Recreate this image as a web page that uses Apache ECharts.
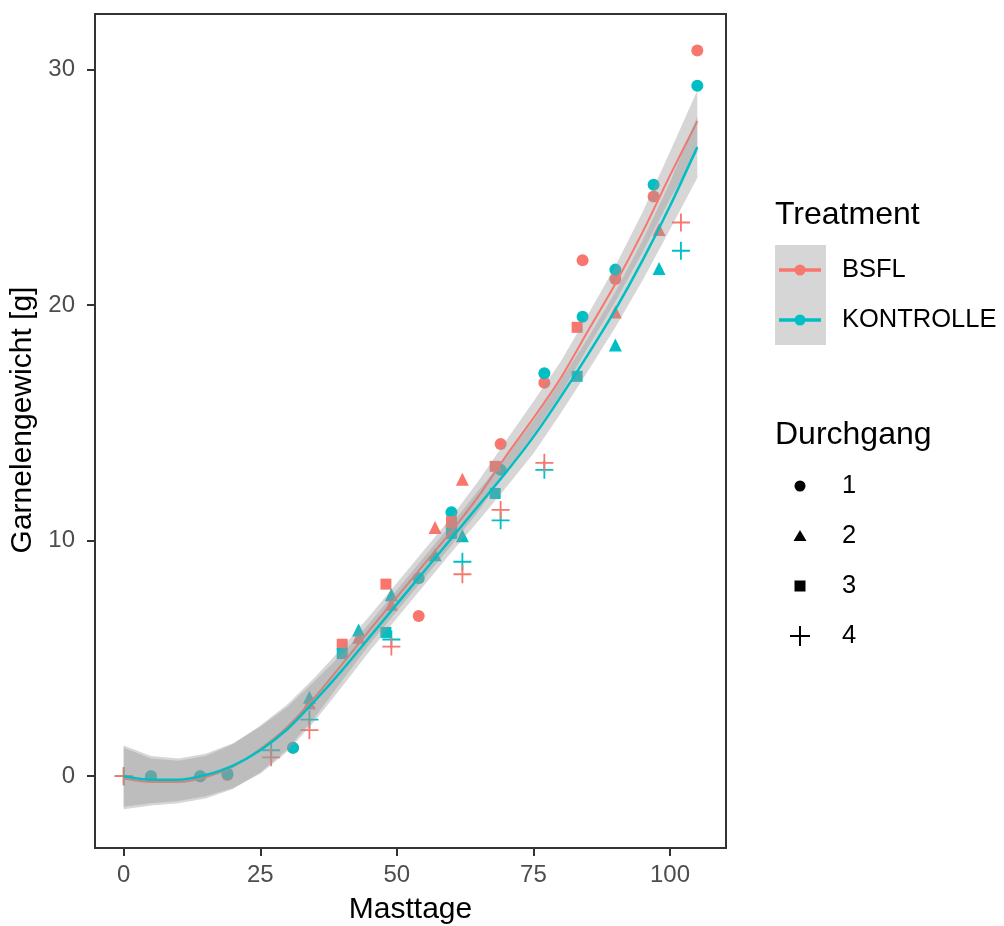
<!DOCTYPE html>
<html>
<head>
<meta charset="utf-8">
<script src="https://cdn.jsdelivr.net/npm/echarts@6/dist/echarts.min.js"></script>
<style>
html, body { margin: 0; padding: 0; background: #fff; }
#main { width: 1004px; height: 926px; }
</style>
</head>
<body>
<div id="main"></div>
<script>
// Gruppen
var treatments = ['BSFL', 'KONTROLLE'];
var treatColors = ['#F8766D', '#00BFC4'];
var runs = ['1', '2', '3', '4'];

// Messpunkte, Durchgang 1 (Kreis)
var bsfl1Days = [5, 14, 19, 31, 54, 60, 69, 77, 84, 90, 97, 105];
var bsfl1Weight = [0.0, 0.0, 0.05, 1.2, 6.8, 10.6, 14.1, 16.7, 21.9, 21.1, 24.6, 30.8];
var kontr1Days = [5, 14, 19, 31, 54, 60, 69, 77, 84, 90, 97, 105];
var kontr1Weight = [0.0, 0.0, 0.1, 1.2, 8.4, 11.2, 13.0, 17.1, 19.5, 21.5, 25.1, 29.3];
// Durchgang 2 (Dreieck)
var bsfl2Days = [34, 43, 49, 57, 62, 90, 98];
var bsfl2Weight = [3.1, 5.9, 7.3, 10.55, 12.6, 19.7, 23.2];
var kontr2Days = [34, 43, 49, 57, 62, 90, 98];
var kontr2Weight = [3.35, 6.2, 7.7, 9.4, 10.2, 18.3, 21.55];
// Durchgang 3 (Quadrat)
var bsfl3Days = [40, 48, 60, 68, 83];
var bsfl3Weight = [5.6, 8.15, 10.8, 13.15, 19.05];
var kontr3Days = [40, 48, 60, 68, 83];
var kontr3Weight = [5.2, 6.1, 10.3, 12.0, 16.97];
// Durchgang 4 (Plus)
var bsfl4Days = [0, 27, 34, 49, 62, 69, 77, 102];
var bsfl4Weight = [0.0, 0.8, 1.95, 5.5, 8.57, 11.3, 13.3, 23.5];
var kontr4Days = [0, 27, 34, 49, 62, 69, 77, 102];
var kontr4Weight = [0.0, 1.1, 2.4, 5.8, 9.1, 10.86, 13.0, 22.3];

// Glättung (loess) mit Konfidenzband
var smoothX = [0, 5, 10, 15, 20, 25, 30, 35, 40, 45, 50, 55, 60, 65, 70, 75, 80, 85, 90, 95, 100, 105];
var bsflFit = [-0.1, -0.25, -0.25, -0.05, 0.4, 1.15, 2.1, 3.35, 4.75, 6.2, 7.6, 9.0, 10.4, 11.9, 13.6, 15.2, 16.9, 18.9, 20.9, 23.1, 25.5, 27.8];
var bsflLo = [-1.4, -1.25, -1.15, -0.95, -0.55, 0.15, 1.15, 2.5, 4.05, 5.6, 7.0, 8.4, 9.8, 11.25, 12.95, 14.5, 16.2, 18.2, 20.15, 22.25, 24.5, 26.5];
var bsflHi = [1.2, 0.75, 0.65, 0.85, 1.35, 2.15, 3.05, 4.2, 5.45, 6.8, 8.2, 9.6, 11.0, 12.55, 14.25, 15.9, 17.6, 19.6, 21.65, 23.95, 26.5, 29.1];
var kontrFit = [0.0, -0.15, -0.15, 0.05, 0.45, 1.1, 2.0, 3.2, 4.5, 5.9, 7.3, 8.7, 10.1, 11.5, 12.9, 14.4, 16.1, 17.9, 19.8, 21.9, 24.2, 26.7];
var kontrLo = [-1.3, -1.15, -1.05, -0.85, -0.5, 0.1, 1.05, 2.35, 3.8, 5.3, 6.7, 8.1, 9.5, 10.85, 12.25, 13.7, 15.4, 17.2, 19.05, 21.05, 23.2, 25.4];
var kontrHi = [1.3, 0.85, 0.75, 0.95, 1.4, 2.1, 2.95, 4.05, 5.2, 6.5, 7.9, 9.3, 10.7, 12.15, 13.55, 15.1, 16.8, 18.6, 20.55, 22.75, 25.2, 28.0];

// Achsen
var xTicks = [0, 25, 50, 75, 100];
var yTicks = [0, 10, 20, 30];

var FONT = 'Liberation Sans, Arial, sans-serif';
var plusPath = 'path://M9,0H11V9H20V11H11V20H9V11H0V9H9Z';
var runSymbols = ['circle', 'triangle', 'rect', plusPath];
var runSizes = [12, 13, 11, 18];
var ribbonFill = 'rgba(153,153,153,0.4)';

var myChart = echarts.init(document.getElementById('main'), null, {renderer: 'canvas'});

// Zeichenreihenfolge wie im Original (bei Durchgang 4 liegt BSFL oben)
var pointSets = [
    [bsfl1Days, bsfl1Weight, 0, 0], [kontr1Days, kontr1Weight, 1, 0],
    [bsfl2Days, bsfl2Weight, 0, 1], [kontr2Days, kontr2Weight, 1, 1],
    [bsfl3Days, bsfl3Weight, 0, 2], [kontr3Days, kontr3Weight, 1, 2],
    [kontr4Days, kontr4Weight, 1, 3], [bsfl4Days, bsfl4Weight, 0, 3]
];

function pairs(xs, ys) {
    var out = [];
    for (var i = 0; i < xs.length; i++) out.push([xs[i], ys[i]]);
    return out;
}

function ribbon(lo, hi, z) {
    var rows = [];
    for (var i = 0; i < smoothX.length; i++) rows.push([smoothX[i], lo[i], hi[i]]);
    return {
        type: 'custom',
        z: z,
        silent: true,
        data: rows,
        encode: {x: 0, y: [1, 2]},
        renderItem: function (params, api) {
            if (params.dataIndex !== 0) return;
            var top = [], bottom = [];
            for (var i = 0; i < rows.length; i++) {
                top.push(api.coord([rows[i][0], rows[i][2]]));
                bottom.unshift(api.coord([rows[i][0], rows[i][1]]));
            }
            return {
                type: 'polygon',
                shape: {points: top.concat(bottom), smooth: 0},
                style: {fill: ribbonFill}
            };
        }
    };
}

function fitLine(ys, color, width, z) {
    return {
        type: 'line',
        z: z,
        silent: true,
        data: pairs(smoothX, ys),
        showSymbol: false,
        symbol: 'none',
        smooth: 0.25,
        lineStyle: {color: color, width: width}
    };
}

var series = [];
pointSets.forEach(function (p) {
    series.push({
        type: 'scatter',
        name: treatments[p[2]] + ' ' + runs[p[3]],
        z: 1,
        data: pairs(p[0], p[1]),
        symbol: runSymbols[p[3]],
        symbolSize: runSizes[p[3]],
        itemStyle: {color: treatColors[p[2]], opacity: 1}
    });
});
series.push(ribbon(bsflLo, bsflHi, 2));
series.push(fitLine(bsflFit, treatColors[0], 2, 3));
series.push(ribbon(kontrLo, kontrHi, 4));
series.push(fitLine(kontrFit, treatColors[1], 2.5, 5));

// Legende als Grafik
var graphic = [];
graphic.push({type: 'text', x: 775, y: 215, z: 10,
    style: {text: 'Treatment', font: '32px ' + FONT, fill: '#000', verticalAlign: 'middle'}});
graphic.push({type: 'rect', z: 10, shape: {x: 775, y: 245, width: 51, height: 100},
    style: {fill: ribbonFill}});
treatments.forEach(function (t, i) {
    var cy = 270 + i * 50;
    graphic.push({type: 'line', z: 11, shape: {x1: 779, y1: cy, x2: 821, y2: cy},
        style: {stroke: treatColors[i], lineWidth: 3.5}});
    graphic.push({type: 'circle', z: 11, shape: {cx: 800, cy: cy, r: 5.5},
        style: {fill: treatColors[i]}});
    graphic.push({type: 'text', x: 842, y: cy, z: 10,
        style: {text: t, font: '25.5px ' + FONT, fill: '#000', verticalAlign: 'middle'}});
});
graphic.push({type: 'text', x: 775, y: 435, z: 10,
    style: {text: 'Durchgang', font: '32px ' + FONT, fill: '#000', verticalAlign: 'middle'}});
runs.forEach(function (r, i) {
    var cy = 486 + i * 50;
    var shp;
    if (i === 0) {
        shp = {type: 'circle', shape: {cx: 800, cy: cy, r: 5.5}, style: {fill: '#000'}};
    } else if (i === 1) {
        shp = {type: 'polygon', shape: {points: [[800, cy - 6], [806.5, cy + 5], [793.5, cy + 5]]}, style: {fill: '#000'}};
    } else if (i === 2) {
        shp = {type: 'rect', shape: {x: 794.5, y: cy - 5.5, width: 11, height: 11}, style: {fill: '#000'}};
    } else {
        shp = {type: 'group', children: [
            {type: 'line', shape: {x1: 790, y1: cy, x2: 810, y2: cy}, style: {stroke: '#000', lineWidth: 2}},
            {type: 'line', shape: {x1: 800, y1: cy - 10, x2: 800, y2: cy + 10}, style: {stroke: '#000', lineWidth: 2}}
        ]};
    }
    shp.z = 10;
    graphic.push(shp);
    graphic.push({type: 'text', x: 842, y: cy, z: 10,
        style: {text: r, font: '25.5px ' + FONT, fill: '#000', verticalAlign: 'middle'}});
});

var option = {
    animation: false,
    backgroundColor: '#fff',
    grid: {
        left: 95, right: 278, top: 14, bottom: 78,
        show: true, borderColor: '#333', borderWidth: 2, backgroundColor: 'transparent',
        outerBoundsMode: 'none'
    },
    xAxis: {
        type: 'value',
        min: -5.25, max: 110.25,
        splitLine: {show: false},
        axisLine: {show: true, onZero: false, lineStyle: {color: '#333', width: 2}},
        axisTick: {show: true, customValues: xTicks, length: 8, lineStyle: {color: '#333', width: 2}},
        axisLabel: {customValues: xTicks, margin: 15, fontSize: 24, color: '#4D4D4D', fontFamily: FONT},
        name: 'Masttage',
        nameLocation: 'middle',
        nameGap: 47,
        nameTextStyle: {fontSize: 30, color: '#000', fontFamily: FONT}
    },
    yAxis: {
        type: 'value',
        min: -3.05, max: 32.35,
        splitLine: {show: false},
        axisLine: {show: true, onZero: false, lineStyle: {color: '#333', width: 2}},
        axisTick: {show: true, customValues: yTicks, length: 8, lineStyle: {color: '#333', width: 2}},
        axisLabel: {customValues: yTicks, margin: 20, fontSize: 24, color: '#4D4D4D', fontFamily: FONT},
        name: 'Garnelengewicht [g]',
        nameLocation: 'middle',
        nameRotate: 90,
        nameGap: 51,
        nameTextStyle: {fontSize: 30, color: '#000', fontFamily: FONT, padding: [0, 0, 0, 22]}
    },
    graphic: graphic,
    series: series
};

myChart.setOption(option);
</script>
</body>
</html>
